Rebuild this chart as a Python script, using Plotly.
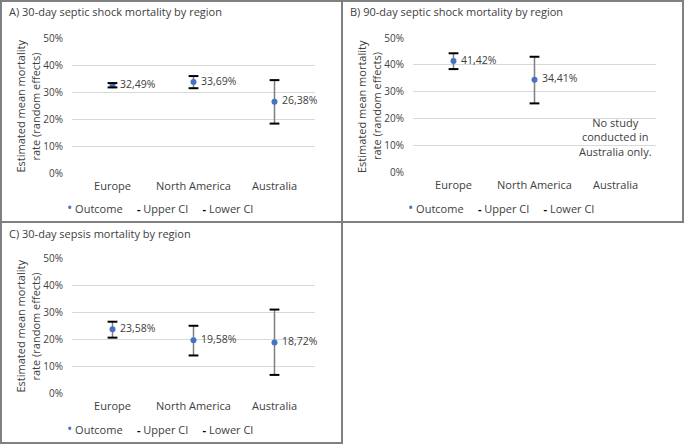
import plotly.graph_objects as go

regions = ["Europe", "North America", "Australia"]

# A) 30-day septic shock
a_outcome = [32.49, 33.69, 26.38]
a_upper = [33.3, 35.9, 34.4]
a_lower = [31.7, 31.4, 18.3]

# B) 90-day septic shock (no Australia study)
b_outcome = [41.42, 34.41, None]
b_upper = [44.3, 43.0, None]
b_lower = [38.4, 25.6, None]

# C) 30-day sepsis
c_outcome = [23.58, 19.58, 18.72]
c_upper = [26.4, 24.9, 30.9]
c_lower = [20.5, 13.9, 6.7]

y_ticks = [0, 10, 20, 30, 40, 50]
y_ticktext = [f"{v}%" for v in y_ticks]

titles = [
    "A) 30-day septic shock mortality by region",
    "B) 90-day septic shock mortality by region",
    "C) 30-day sepsis mortality by region",
]
y_title = ["Estimated mean mortality", "rate (random effects)"]

FONT = "Open Sans"
TXT = "#404040"
BLUE = "#4472C4"
W, H = 685, 444

fig = go.Figure()


def lbl(v):
    if v is None:
        return ""
    return "\u00a0" + f"{v:.2f}".replace(".", ",") + "%"


def add_panel(n, outcome, upper, lower):
    xa = "x" if n == 1 else f"x{n}"
    ya = "y" if n == 1 else f"y{n}"
    plus = [None if o is None else u - o for o, u in zip(outcome, upper)]
    minus = [None if o is None else o - l for o, l in zip(outcome, lower)]
    fig.add_trace(go.Scatter(
        x=regions, y=outcome, name="Outcome", mode="markers+text",
        text=[lbl(v) for v in outcome], textposition="middle right",
        textfont=dict(size=10.5, color=TXT, family=FONT),
        marker=dict(color=BLUE, size=6),
        error_y=dict(type="data", symmetric=False, array=plus, arrayminus=minus,
                     color="#7f7f7f", thickness=1.5, width=0),
        xaxis=xa, yaxis=ya, cliponaxis=False, showlegend=False,
    ))
    for ci, nm in ((upper, "Upper CI"), (lower, "Lower CI")):
        fig.add_trace(go.Scatter(
            x=regions, y=ci, name=nm, mode="markers",
            marker=dict(symbol="line-ew", size=7, line=dict(color="black", width=2)),
            xaxis=xa, yaxis=ya, showlegend=False,
        ))


add_panel(1, a_outcome, a_upper, a_lower)
add_panel(2, b_outcome, b_upper, b_lower)
add_panel(3, c_outcome, c_upper, c_lower)

# panel geometry (pixels)
panels = [
    dict(x0=72, x1=315, top=38, bottom=173, box=(1, 342, 1, 222)),
    dict(x0=413, x1=656, top=38, bottom=172, box=(342, 683, 1, 222)),
    dict(x0=72, x1=315, top=258, bottom=393, box=(1, 342, 222, 443)),
]

axis_common = dict(showline=False, zeroline=False, ticks="", automargin=False)
layout = dict(
    width=W, height=H, margin=dict(l=0, r=0, t=0, b=0),
    paper_bgcolor="white", plot_bgcolor="white", showlegend=False,
    font=dict(family=FONT, color=TXT, size=11),
    annotations=[], shapes=[],
)

dash = "<b><span style='color:black'>-</span></b>"
legend_text = (
    "<span style='color:#4472C4;font-size:14px'>•</span>\u00a0Outcome"
    "\u00a0\u00a0\u00a0\u00a0\u00a0" + dash + "\u00a0Upper CI"
    "\u00a0\u00a0\u00a0\u00a0\u00a0" + dash + "\u00a0Lower CI"
)

for i, p in enumerate(panels, start=1):
    sx = "" if i == 1 else str(i)
    layout["xaxis" + sx] = dict(
        axis_common, domain=[p["x0"] / W, p["x1"] / W], anchor="y" + sx,
        type="category", categoryorder="array", categoryarray=regions,
        range=[-0.5, 2.5], showgrid=False, ticklabelstandoff=5,
        tickfont=dict(size=11, color=TXT, family=FONT),
    )
    layout["yaxis" + sx] = dict(
        axis_common, domain=[1 - p["bottom"] / H, 1 - p["top"] / H],
        anchor="x" + sx, range=[0, 50], tickvals=y_ticks, ticktext=y_ticktext,
        showgrid=True, gridcolor="#d9d9d9", gridwidth=1, ticklabelstandoff=8,
        tickfont=dict(size=10, color=TXT, family=FONT),
    )
    bx0, bx1, by0, by1 = p["box"]
    layout["shapes"].append(dict(
        type="rect", xref="paper", yref="paper",
        x0=bx0 / W, x1=bx1 / W, y0=1 - by1 / H, y1=1 - by0 / H,
        line=dict(color="#808080", width=2), fillcolor="rgba(0,0,0,0)",
    ))
    layout["annotations"].append(dict(
        text=titles[i - 1], xref="paper", yref="paper",
        x=(bx0 + 6) / W, y=1 - (by0 + 11) / H, xanchor="left", yanchor="middle",
        showarrow=False, font=dict(size=11, color=TXT, family=FONT),
    ))
    ymid = 1 - ((p["top"] + p["bottom"]) / 2 + 1) / H
    for k, line in enumerate(y_title):
        layout["annotations"].append(dict(
            text=line, xref="paper", yref="paper", textangle=-90,
            x=(bx0 + 19 + 15 * k) / W, y=ymid,
            xanchor="center", yanchor="middle", showarrow=False,
            font=dict(size=11, color=TXT, family=FONT),
        ))
    layout["annotations"].append(dict(
        text=legend_text, xref="paper", yref="paper",
        x=(bx0 + 64) / W, y=1 - (by0 + 206) / H, xanchor="left", yanchor="middle",
        showarrow=False, font=dict(size=11, color=TXT, family=FONT),
    ))

layout["annotations"].append(dict(
    text="No study<br>conducted in<br>Australia only.", xref="x2", yref="y2",
    x="Australia", y=13, showarrow=False, align="center",
    font=dict(size=11, color=TXT, family=FONT),
))

fig.update_layout(**layout)
fig.write_html("out.html", config={"displayModeBar": False},
               post_script="document.body.style.margin='0';")
